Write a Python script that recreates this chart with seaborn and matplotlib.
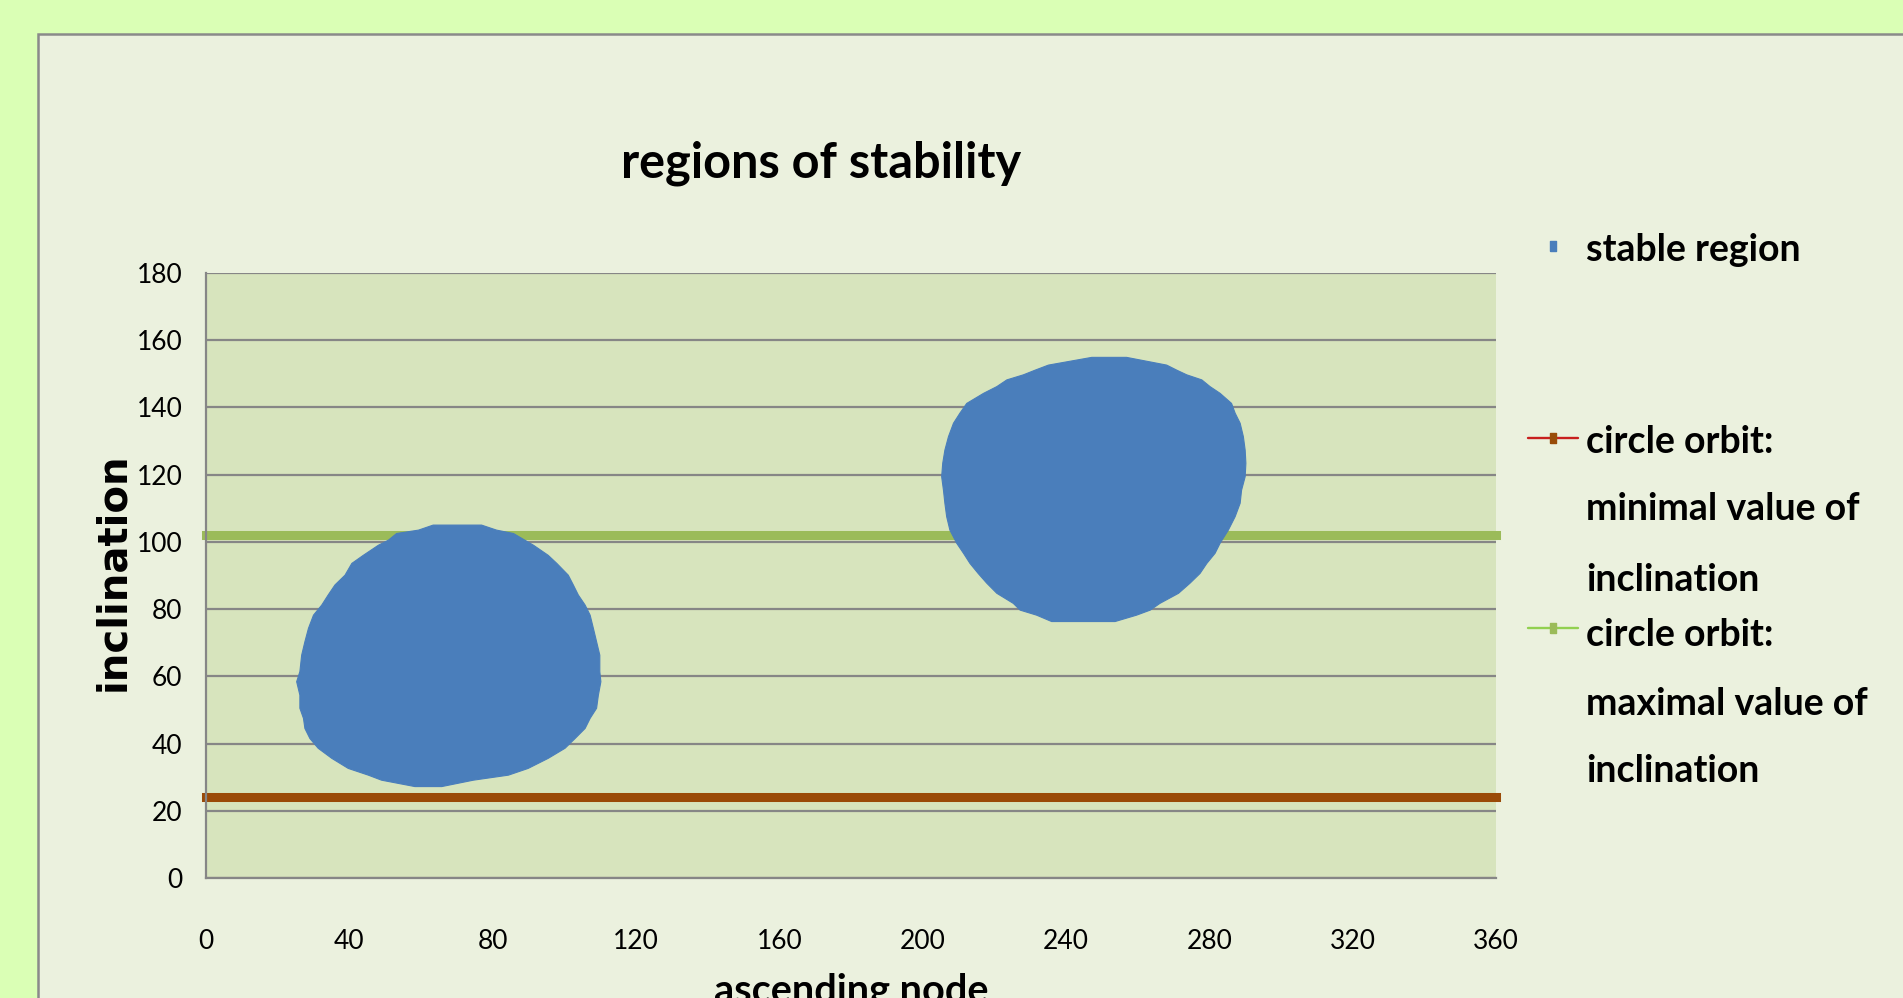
import numpy as np
import matplotlib
matplotlib.use("Agg")
import matplotlib.pyplot as plt
import seaborn as sns
import pandas as pd
from matplotlib.lines import Line2D
from matplotlib.patches import Rectangle

# ---------------- data ----------------
# stable region 1: inclination rows with left / right ascending-node extents
blob1_incl = [105.0, 103.5, 102.5, 100.5, 99.0, 96.0, 93.6, 90.1, 87.2, 84.2, 81.2, 78.2,
              74.3, 70.3, 66.3, 61.4, 58.4, 54.4, 50.5, 47.5, 44.5, 41.5, 38.6, 35.6,
              32.6, 30.6, 29.1, 27.2]
blob1_left = [63.4, 59.3, 53.2, 50.9, 48.1, 43.9, 40.7, 38.8, 36.0, 34.1, 32.3, 30.0,
              28.6, 27.6, 26.7, 26.2, 25.3, 26.2, 26.2, 27.2, 27.6, 29.0, 31.3, 35.1,
              39.7, 45.3, 49.0, 58.3]
blob1_right = [76.9, 81.1, 85.8, 89.0, 91.4, 95.5, 97.9, 101.1, 102.5, 103.9, 105.8, 107.2,
               108.1, 109.0, 109.9, 109.9, 110.2, 109.5, 109.0, 107.2, 105.8, 103.0, 100.2, 95.5,
               89.9, 84.4, 74.6, 65.8]

# stable region 2
blob2_incl = [154.9, 152.6, 151.1, 149.7, 148.2, 146.2, 144.2, 141.2, 138.3, 135.3, 131.3,
              127.3, 123.4, 119.4, 115.4, 111.5, 107.5, 103.5, 99.6, 96.6, 93.6, 90.6,
              87.7, 84.7, 81.7, 79.7, 78.2, 76.3]
blob2_left = [247.2, 235.1, 231.4, 228.1, 223.5, 220.7, 217.0, 212.3, 210.4, 208.6, 207.2,
              206.2, 205.6, 205.3, 205.8, 206.2, 206.7, 207.6, 209.5, 211.4, 213.2, 215.5,
              217.9, 220.7, 225.3, 227.2, 231.8, 236.0]
blob2_right = [256.9, 268.1, 270.9, 273.7, 277.9, 280.2, 283.0, 286.2, 287.2, 288.6, 289.5,
               290.0, 290.2, 290.0, 289.0, 288.6, 287.2, 285.3, 283.0, 281.6, 279.3, 277.4,
               274.6, 271.4, 266.2, 263.5, 259.7, 253.7]

# circle orbit lines
circle_nodes = [0, 360]
circle_min_incl = [24, 24]
circle_max_incl = [102, 102]

x_ticks = [0, 40, 80, 120, 160, 200, 240, 280, 320, 360]
y_ticks = [0, 20, 40, 60, 80, 100, 120, 140, 160, 180]

title_text = "regions of stability"
x_label = "ascending node"
y_label = "inclination"
legend_stable = "stable region"
legend_min = ["circle orbit:", "minimal value of", "inclination"]
legend_max = ["circle orbit:", "maximal value of", "inclination"]

# ---------------- style ----------------
sns.set_theme(style="white")
plt.rcParams['font.family'] = ['Lato', 'DejaVu Sans']
plt.rcParams['text.color'] = 'black'

W, H = 1903, 998
fig = plt.figure(figsize=(W / 100, H / 100), dpi=100)
fig.patch.set_facecolor('#DAFFB5')


def fx(px):
    return px / W


def fy(py):
    return 1 - py / H


# chart area panel
fig.patches.append(Rectangle((fx(38), fy(1100)), fx(2000), (1100 - 34) / H,
                             transform=fig.transFigure, facecolor='#EBF1DE',
                             edgecolor='#8A8A8A', linewidth=1.8, zorder=-5))

ax = fig.add_axes([fx(206), fy(878), 1290 / W, 605 / H])
ax.set_zorder(2)
ax.set_facecolor('#D7E4BD')
ax.set_xlim(0, 360)
ax.set_ylim(0, 180)
ax.set_xticks(x_ticks)
ax.set_yticks(y_ticks)
ax.yaxis.grid(True, color='#868686', linewidth=1.6)
ax.xaxis.grid(False)
ax.set_axisbelow(True)
for s in ['top', 'right']:
    ax.spines[s].set_visible(False)
for s in ['left', 'bottom']:
    ax.spines[s].set_color('#868686')
    ax.spines[s].set_linewidth(1.6)
ax.tick_params(axis='y', length=0, pad=17, labelsize=19, labelcolor='black')
ax.tick_params(axis='x', length=0, pad=37, labelsize=19, labelcolor='black')

# circle orbit bands
df_min = pd.DataFrame({'node': circle_nodes, 'incl': circle_min_incl})
df_max = pd.DataFrame({'node': circle_nodes, 'incl': circle_max_incl})
sns.lineplot(data=df_min, x='node', y='incl', ax=ax, color='#9A4A08', linewidth=6.5,
             solid_capstyle='projecting', legend=False, zorder=2, clip_on=False)
sns.lineplot(data=df_max, x='node', y='incl', ax=ax, color='#9BBB59', linewidth=6.5,
             solid_capstyle='projecting', legend=False, zorder=2, clip_on=False)

# stable regions
for inc, le, ri in [(blob1_incl, blob1_left, blob1_right), (blob2_incl, blob2_left, blob2_right)]:
    xs = list(le) + list(ri)[::-1]
    ys = list(inc) + list(inc)[::-1]
    ax.fill(xs, ys, facecolor='#4A7EBB', edgecolor='#4A7EBB', linewidth=0.8, zorder=3)

ax.set_xlabel(x_label, fontsize=28.5, fontweight='bold', color='black')
ax.xaxis.set_label_coords(0.5, -0.157)
ax.set_ylabel(y_label, fontsize=29, fontweight='bold', family=['DejaVu Sans'], color='black')
ax.yaxis.set_label_coords(-0.0565, 0.5066)

fig.text(fx(821), fy(177), title_text, ha='center', va='baseline', fontsize=35,
         fontweight='bold')

# legend (drawn manually to match the layout)
rect_marker = [(-0.3, -0.5), (0.3, -0.5), (0.3, 0.5), (-0.3, 0.5), (-0.3, -0.5)]
fig.add_artist(Line2D([fx(1553)], [fy(246)], transform=fig.transFigure, marker=rect_marker,
                      markersize=7.5, color='#4A7EBB', linestyle='none'))
fig.text(fx(1586), fy(261), legend_stable, fontsize=27, fontweight='bold', va='baseline')

fig.add_artist(Line2D([fx(1528), fx(1578)], [fy(437.5)] * 2, transform=fig.transFigure,
                      color='#C8201E', linewidth=1.7))
fig.add_artist(Line2D([fx(1553)], [fy(437.5)], transform=fig.transFigure, marker=rect_marker,
                      markersize=7.5, color='#994C08', linestyle='none'))
for txt, b in zip(legend_min, [453, 520, 591]):
    fig.text(fx(1586), fy(b), txt, fontsize=27, fontweight='bold', va='baseline')

fig.add_artist(Line2D([fx(1528), fx(1578)], [fy(628)] * 2, transform=fig.transFigure,
                      color='#92D050', linewidth=1.7))
fig.add_artist(Line2D([fx(1553)], [fy(628)], transform=fig.transFigure, marker=rect_marker,
                      markersize=7.5, color='#9BBB59', linestyle='none'))
for txt, b in zip(legend_max, [646, 715, 782]):
    fig.text(fx(1586), fy(b), txt, fontsize=27, fontweight='bold', va='baseline')

fig.savefig('out.png', dpi=100, facecolor=fig.get_facecolor())
